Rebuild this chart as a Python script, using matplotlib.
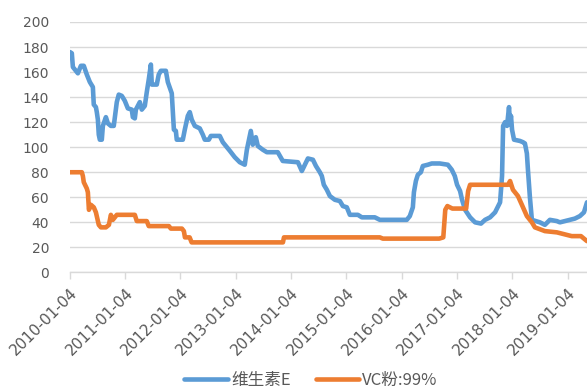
import pandas as pd
import numpy as np
import matplotlib.pyplot as plt

plt.rcParams['font.family'] = ['DejaVu Sans', 'Noto Sans CJK SC']
plt.rcParams['axes.unicode_minus'] = False

# 维生素E 价格
ve_dates = ['2010-01-04', '2010-01-17', '2010-01-24', '2010-02-06', '2010-02-26', '2010-03-18',
            '2010-04-06', '2010-04-26', '2010-05-16', '2010-06-05', '2010-06-11', '2010-06-25',
            '2010-07-01', '2010-07-08', '2010-07-14', '2010-07-21', '2010-08-03', '2010-08-10',
            '2010-08-30', '2010-09-12', '2010-10-02', '2010-10-21', '2010-11-10', '2010-11-23',
            '2010-12-13', '2011-01-02', '2011-01-22', '2011-02-17', '2011-02-24', '2011-03-09',
            '2011-03-16', '2011-04-11', '2011-04-24', '2011-05-14', '2011-05-27', '2011-06-09',
            '2011-06-23', '2011-06-29', '2011-08-01', '2011-08-14', '2011-08-28', '2011-09-30',
            '2011-10-13', '2011-11-08', '2011-11-15', '2011-11-22', '2011-12-05', '2011-12-11',
            '2012-01-20', '2012-02-02', '2012-02-22', '2012-03-06', '2012-03-19', '2012-04-08',
            '2012-05-11', '2012-05-31', '2012-06-13', '2012-07-10', '2012-07-23', '2012-09-20',
            '2012-10-10', '2012-11-26', '2012-12-28', '2013-01-30', '2013-03-04', '2013-03-18',
            '2013-04-13', '2013-04-26', '2013-05-16', '2013-05-29', '2013-07-01', '2013-07-28',
            '2013-10-08', '2013-11-10', '2014-02-18', '2014-03-16', '2014-04-25', '2014-05-28',
            '2014-06-17', '2014-07-13', '2014-07-26', '2014-08-08', '2014-08-28', '2014-09-17',
            '2014-10-20', '2014-11-22', '2014-12-12', '2015-01-07', '2015-01-27', '2015-03-21',
            '2015-04-16', '2015-07-11', '2015-08-13', '2016-02-07', '2016-02-27', '2016-03-18',
            '2016-03-25', '2016-04-07', '2016-04-20', '2016-05-10', '2016-05-23', '2016-06-25',
            '2016-07-21', '2016-09-12', '2016-11-04', '2016-11-30', '2016-12-20', '2017-01-04',
            '2017-01-24', '2017-02-06', '2017-02-26', '2017-03-31', '2017-05-03', '2017-06-11',
            '2017-07-08', '2017-08-10', '2017-09-12', '2017-10-15', '2017-10-28', '2017-11-04',
            '2017-11-17', '2017-11-30', '2017-12-13', '2017-12-20', '2017-12-26', '2018-01-02',
            '2018-01-15', '2018-02-23', '2018-03-15', '2018-03-28', '2018-04-10', '2018-04-17',
            '2018-04-30', '2018-05-13', '2018-07-05', '2018-08-07', '2018-09-09', '2018-10-25',
            '2018-11-14', '2018-12-17', '2019-01-19', '2019-02-21', '2019-03-26', '2019-04-22',
            '2019-05-12']
ve_price = [176, 175, 164, 162, 159, 165,
            165, 158, 152, 148, 134, 132,
            128, 122, 110, 106, 106, 117,
            124, 119, 117, 117, 136, 142,
            141, 137, 131, 130, 124, 123,
            130, 136, 130, 133, 144, 154,
            166, 150, 150, 158, 161, 161,
            152, 143, 128, 114, 113, 106,
            106, 114, 125, 128, 122, 117,
            115, 110, 106, 106, 109, 109,
            104, 97, 92, 88, 86, 98,
            113, 102, 108, 101, 98, 96,
            96, 89, 88, 81, 91, 90,
            85, 80, 77, 70, 66, 61,
            58, 57, 53, 52, 46, 46,
            44, 44, 42, 42, 45, 52,
            64, 73, 78, 80, 85, 86,
            87, 87, 86, 82, 77, 70,
            65, 58, 50, 44, 40, 39,
            42, 44, 48, 56, 77, 117,
            120, 117, 132, 118, 125, 114,
            106, 105, 104, 103, 95, 82,
            60, 42, 40, 38, 42, 41,
            40, 41, 42, 43, 45, 48,
            56]

# VC粉:99% 价格
vc_dates = ['2010-01-04', '2010-03-24', '2010-03-31', '2010-04-06', '2010-04-26', '2010-05-03',
            '2010-05-10', '2010-05-23', '2010-06-11', '2010-06-25', '2010-07-14', '2010-07-28',
            '2010-08-30', '2010-09-19', '2010-10-02', '2010-10-15', '2010-11-10', '2010-11-30',
            '2011-03-09', '2011-03-22', '2011-05-27', '2011-06-09', '2011-10-20', '2011-11-02',
            '2012-01-14', '2012-01-27', '2012-02-03', '2012-03-05', '2012-03-18', '2013-11-11',
            '2013-11-18', '2015-08-13', '2015-09-02', '2016-09-08', '2016-10-05', '2016-10-18',
            '2016-11-01', '2016-12-04', '2017-03-05', '2017-03-18', '2017-03-31', '2017-12-07',
            '2017-12-20', '2018-01-08', '2018-02-10', '2018-03-08', '2018-04-10', '2018-05-13',
            '2018-06-02', '2018-08-07', '2018-10-25', '2019-01-31', '2019-04-02', '2019-05-12']
vc_price = [80, 80, 77, 72, 67, 64,
            50, 54, 52, 48, 38, 36,
            36, 38, 46, 42, 46, 46,
            46, 41, 41, 37, 37, 35,
            35, 33, 28, 28, 24, 24,
            28, 28, 27, 27, 28, 50,
            53, 51, 51, 65, 70, 70,
            73, 66, 61, 54, 45, 40,
            36, 33, 32, 29, 29, 25]

tick_dates = ['2010-01-04', '2011-01-04', '2012-01-04', '2013-01-04', '2014-01-04',
              '2015-01-04', '2016-01-04', '2017-01-04', '2018-01-04', '2019-01-04']

fig = plt.figure(figsize=(5.87, 3.92), dpi=100)
ax = fig.add_axes([0.119, 0.305, 0.881, 0.639])

ax.plot(pd.to_datetime(ve_dates), ve_price, color='#5B9BD5', lw=3.3, label='维生素E',
        solid_joinstyle='round', solid_capstyle='round')
ax.plot(pd.to_datetime(vc_dates), vc_price, color='#ED7D31', lw=3.3, label='VC粉:99%',
        solid_joinstyle='round', solid_capstyle='round')

ax.set_ylim(0, 200)
ax.set_yticks(np.arange(0, 201, 20))
ax.set_xlim(pd.Timestamp('2010-01-04'), pd.Timestamp('2019-05-12'))
ax.set_xticks(pd.to_datetime(tick_dates))
ax.set_xticklabels(tick_dates, rotation=45, ha='right', rotation_mode='anchor', fontsize=11, color='#595959')
ax.tick_params(axis='y', length=0, pad=15, labelsize=10, labelcolor='#595959')
ax.tick_params(axis='x', length=5, width=1, color='#D9D9D9', pad=4)
ax.grid(axis='y', color='#D9D9D9', lw=1)
ax.set_axisbelow(True)
for s in ['top', 'right', 'left']:
    ax.spines[s].set_visible(False)
ax.spines['bottom'].set_color('#D9D9D9')
ax.spines['bottom'].set_linewidth(1)

leg = fig.legend(loc='center', bbox_to_anchor=(0.53, 0.03), ncol=2, frameon=False,
                 handlelength=2.6, columnspacing=1.5, handletextpad=0.2,
                 prop={'family': ['Noto Sans CJK SC', 'DejaVu Sans'], 'size': 12})
for t in leg.get_texts():
    t.set_color('#595959')

fig.savefig('out.png', dpi=100)
